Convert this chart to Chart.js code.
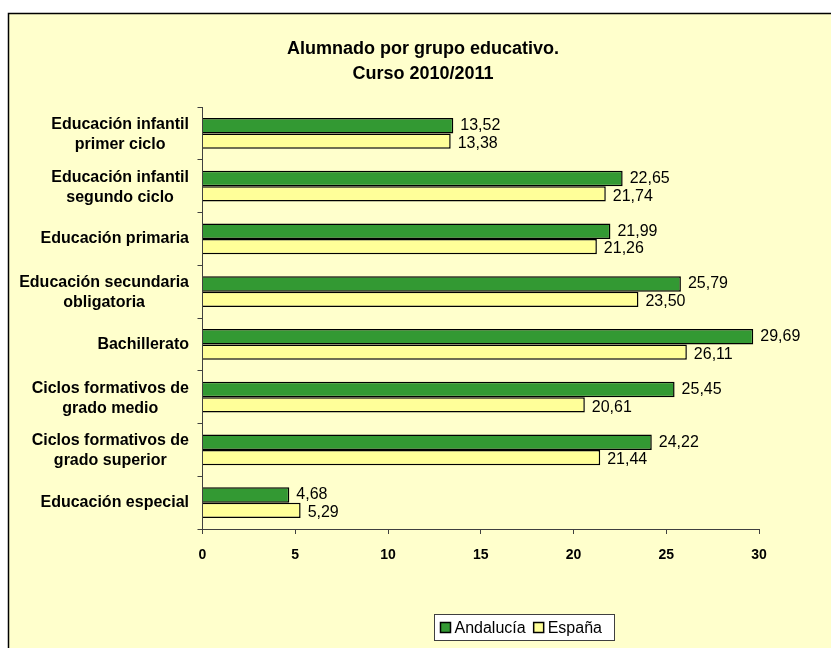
<!DOCTYPE html>
<html>
<head>
<meta charset="utf-8">
<script src="https://cdn.jsdelivr.net/npm/chart.js@4.4.0/dist/chart.umd.min.js"></script>
<style>
  html, body { margin: 0; padding: 0; background: #ffffff; }
  #wrap { width: 831px; height: 648px; position: relative; }
</style>
</head>
<body>
<div id="wrap"><canvas id="chart"></canvas></div>
<script>
const categories = [
  ["Educación infantil", "primer ciclo"],
  ["Educación infantil", "segundo ciclo"],
  "Educación primaria",
  ["Educación secundaria", "obligatoria"],
  "Bachillerato",
  ["Ciclos formativos de", "grado medio"],
  ["Ciclos formativos de", "grado superior"],
  "Educación especial"
];
const andalucia = [13.52, 22.65, 21.99, 25.79, 29.69, 25.45, 24.22, 4.68];
const espana = [13.38, 21.74, 21.26, 23.5, 26.11, 20.61, 21.44, 5.29];
const xTicks = [0, 5, 10, 15, 20, 25, 30];

const FONT = "'Liberation Sans', Arial, sans-serif";
const AXIS = "#404040";

function fmt(v) {
  return v.toFixed(2).replace(".", ",");
}

// background panel with the outer border (cut by the canvas on right / bottom)
const panel = {
  id: "panel",
  beforeDraw(chart) {
    const c = chart.ctx;
    c.save();
    c.fillStyle = "#ffffff";
    c.fillRect(0, 0, chart.width, chart.height);
    c.fillStyle = "#FFFFCC";
    c.fillRect(8, 13, chart.width, chart.height);
    c.strokeStyle = "#000000";
    c.lineWidth = 1.5;
    c.beginPath();
    c.moveTo(8.5, chart.height + 2);
    c.lineTo(8.5, 13.5);
    c.lineTo(chart.width + 2, 13.5);
    c.stroke();
    c.restore();
  }
};

// y labels: right-aligned block, each line centred in the block
const yLabels = {
  id: "yLabels",
  afterDraw(chart) {
    const c = chart.ctx;
    const scale = chart.scales.y;
    c.save();
    c.font = "bold 16px " + FONT;
    c.fillStyle = "#000000";
    c.textAlign = "center";
    c.textBaseline = "middle";
    categories.forEach(function (lab, i) {
      const lines = Array.isArray(lab) ? lab : [lab];
      let w = 0;
      lines.forEach(function (l) {
        w = Math.max(w, c.measureText(l).width);
      });
      const cx = 189 - w / 2;
      const yc = scale.getPixelForTick(i) + (lines.length > 1 ? 1 : 0);
      lines.forEach(function (l, k) {
        c.fillText(l, cx, yc + (k - (lines.length - 1) / 2) * 20);
      });
    });
    c.restore();
  }
};

// value labels at the end of each bar
const valueLabels = {
  id: "valueLabels",
  afterDatasetsDraw(chart) {
    const c = chart.ctx;
    c.save();
    c.font = "16px " + FONT;
    c.fillStyle = "#000000";
    c.textAlign = "left";
    c.textBaseline = "middle";
    chart.data.datasets.forEach(function (ds, d) {
      const meta = chart.getDatasetMeta(d);
      meta.data.forEach(function (bar, i) {
        c.fillText(fmt(ds.data[i]), bar.x + 7, bar.y + (d === 0 ? 0 : 2.5));
      });
    });
    c.restore();
  }
};

// legend box like the spreadsheet one
const boxLegend = {
  id: "boxLegend",
  afterDraw(chart) {
    const c = chart.ctx;
    const x0 = 434.5, y0 = 614.5, w = 180, h = 26;
    c.save();
    c.fillStyle = "#ffffff";
    c.fillRect(x0, y0, w, h);
    c.strokeStyle = "#404040";
    c.lineWidth = 1;
    c.strokeRect(x0, y0, w, h);
    c.font = "16px " + FONT;
    c.textBaseline = "middle";
    c.textAlign = "left";
    let x = x0 + 6;
    const ym = y0 + h / 2;
    chart.data.datasets.forEach(function (ds) {
      c.fillStyle = ds.backgroundColor;
      c.fillRect(x, ym - 5, 10, 10);
      c.strokeStyle = "#000000";
      c.lineWidth = 1.5;
      c.strokeRect(x, ym - 5, 10, 10);
      c.fillStyle = "#000000";
      c.fillText(ds.label, x + 14, ym + 1);
      x += 14 + c.measureText(ds.label).width + 8;
    });
    c.restore();
  }
};

const config = {
  type: "bar",
  data: {
    labels: categories,
    datasets: [
      {
        label: "Andalucía",
        data: andalucia,
        backgroundColor: "#339933",
        borderColor: "#000000",
        borderWidth: 1.5,
        categoryPercentage: 0.58,
        barPercentage: 1.0
      },
      {
        label: "España",
        data: espana,
        backgroundColor: "#FFFF99",
        borderColor: "#000000",
        borderWidth: 1.5,
        categoryPercentage: 0.58,
        barPercentage: 1.0
      }
    ]
  },
  options: {
    indexAxis: "y",
    responsive: false,
    animation: false,
    layout: {
      padding: { left: 87, right: 72, top: 0, bottom: 0 }
    },
    plugins: {
      legend: { display: false },
      tooltip: { enabled: false },
      title: {
        display: true,
        text: ["Alumnado por grupo educativo.", "Curso 2010/2011"],
        color: "#000000",
        font: { family: FONT, size: 18, weight: "bold", lineHeight: 1.39 },
        padding: { top: 37, bottom: 20 }
      }
    },
    scales: {
      x: {
        min: 0,
        max: 30,
        afterBuildTicks: function (axis) {
          axis.ticks = xTicks.map(function (v) { return { value: v }; });
        },
        afterFit: function (axis) {
          axis.height = 119;
        },
        grid: {
          drawOnChartArea: false,
          drawTicks: true,
          tickLength: 5,
          color: AXIS
        },
        border: { color: AXIS, width: 1 },
        ticks: {
          color: "#000000",
          padding: 13,
          maxRotation: 0,
          font: { family: FONT, size: 14, weight: "bold" }
        }
      },
      y: {
        afterFit: function (axis) {
          axis.width = 115.5;
        },
        grid: {
          drawOnChartArea: false,
          drawTicks: true,
          tickLength: 5,
          color: AXIS
        },
        border: { color: AXIS, width: 1 },
        ticks: { display: false }
      }
    }
  },
  plugins: [panel, yLabels, valueLabels, boxLegend]
};

const canvas = document.getElementById("chart");
canvas.width = 831;
canvas.height = 648;
canvas.style.width = "831px";
canvas.style.height = "648px";
new Chart(canvas, config);
</script>
</body>
</html>
